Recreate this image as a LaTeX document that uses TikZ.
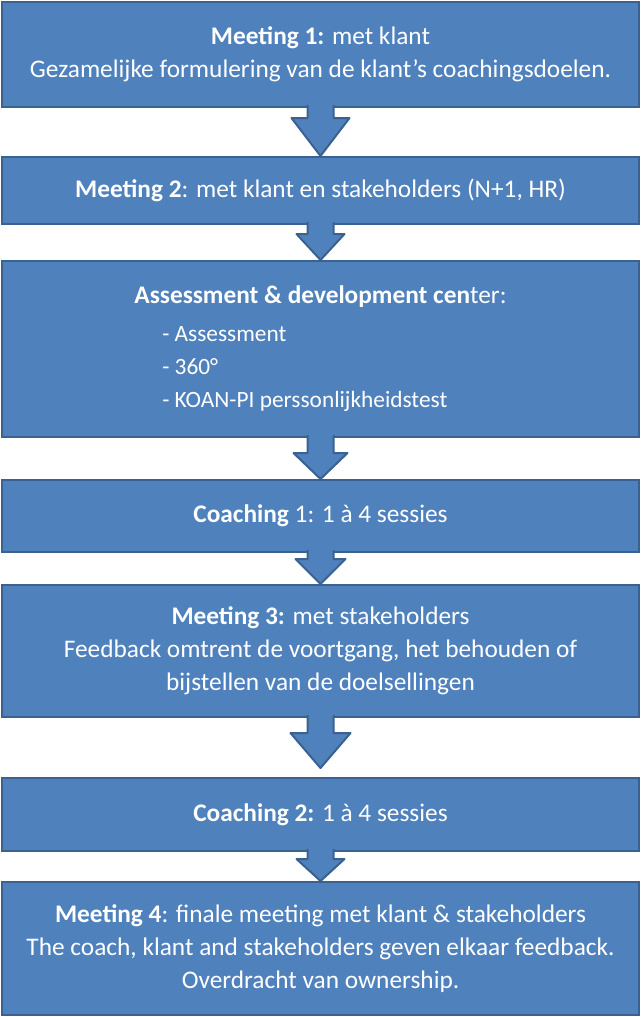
\documentclass[tikz,border=0pt]{standalone}
\usepackage{fontspec}
\setmainfont{Carlito}
\usetikzlibrary{calc}
\definecolor{boxfill}{HTML}{4F81BD}
\definecolor{boxline}{HTML}{3A6190}
\newcommand\blockarrow[5]{% #1 from node, #2 tip coordinate, #3 shaft length, #4 head half width
  \filldraw[arr] ($(#1.south)+(-13,-3)$) -- ($(#1.south)+(-13,#3)$) -- ($(#1.south)+(-#4,#3)$) -- #2
    -- ($(#1.south)+(#4,#3)$) -- ($(#1.south)+(13,#3)$) -- ($(#1.south)+(13,-3)$);}
\begin{document}
\begin{tikzpicture}[x=0.75pt,y=-0.75pt,
  box/.style={draw=boxline, fill=boxfill, line width=1.5pt, minimum width=477.75pt,
    inner sep=0pt, text=white, align=center,
    font=\fontsize{19}{24.75}\selectfont},
  txt/.style={inner sep=0pt, text=white, font=\fontsize{19}{24.75}\selectfont},
  arr/.style={draw=boxline, fill=boxfill, line width=1.5pt, line join=round}]
\useasboundingbox[fill=white] (0,0) rectangle (641,1017);
\node[box, minimum height=78.75pt] (b1) at (320.5,54.5)
  {\textbf{Meeting 1:} met klant\\Gezamelijke formulering van de klant’s coachingsdoelen.};
\node[box, minimum height=50.25pt] (b2) at (320.5,190.5)
  {\textbf{Meeting 2}: met klant en stakeholders (N+1, HR)};
\node[box, minimum height=132pt] (b3) at (320.5,349) {};
\node[txt] (b3title) at (320.5,297)
  {\textbf{Assessment \& development cen}ter:};
\node[txt, align=left, anchor=west, font=\fontsize{17.5}{24.75}\selectfont] (b3list) at (162,369)
  {- Assessment\\- 360°\\- KOAN-PI perssonlijkheidstest};
\node[box, minimum height=54pt] (b4) at (320.5,516)
  {\textbf{Coaching} 1: 1 à 4 sessies};
\node[box, minimum height=99pt] (b5) at (320.5,651)
  {\textbf{Meeting 3:} met stakeholders\\Feedback omtrent de voortgang, het behouden of\\bijstellen van de doelsellingen};
\node[box, minimum height=54.75pt] (b6) at (320.5,814.5)
  {\textbf{Coaching 2:} 1 à 4 sessies};
\node[box, minimum height=99.75pt] (b7) at (320.5,948.5)
  {\textbf{Meeting 4}: finale meeting met klant \& stakeholders\\The coach, klant and stakeholders geven elkaar feedback.\\Overdracht van ownership.};
\blockarrow{b1}{(b2.north)}{10}{29}{}
\blockarrow{b2}{(b3.north)}{9}{24}{}
\blockarrow{b3}{(b4.north)}{15}{27}{}
\blockarrow{b4}{(b5.north)}{6}{25}{}
\blockarrow{b5}{($(b6.north)+(0,-9)$)}{15}{30}{}
\blockarrow{b6}{(b7.north)}{7}{24}{}
\end{tikzpicture}
\end{document}
